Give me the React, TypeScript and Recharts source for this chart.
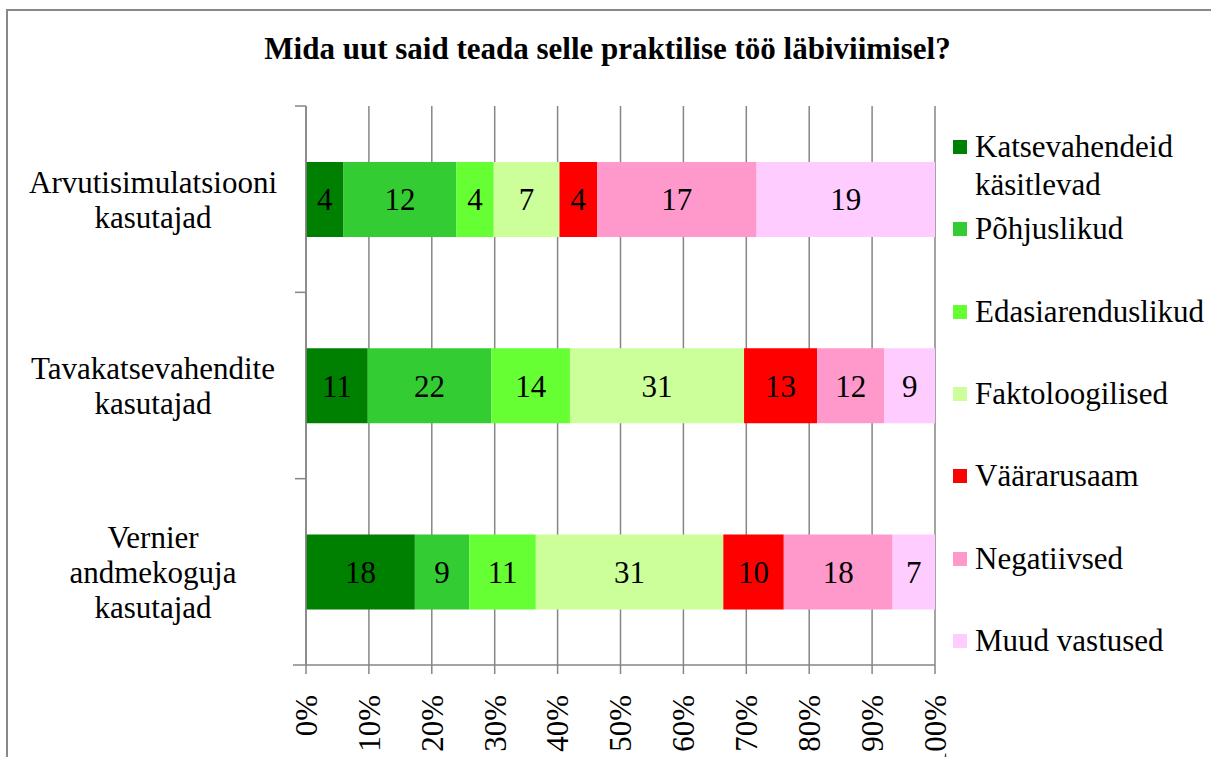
import React from 'react';
import { BarChart, Bar, XAxis, YAxis, CartesianGrid, LabelList } from 'recharts';

const categoryLines: string[][] = [
  ['Arvutisimulatsiooni', 'kasutajad'],
  ['Tavakatsevahendite', 'kasutajad'],
  ['Vernier', 'andmekoguja', 'kasutajad'],
];
const categories = categoryLines.map((l) => l.join(' '));

const seriesNames = [
  'Katsevahendeid käsitlevad',
  'Põhjuslikud',
  'Edasiarenduslikud',
  'Faktoloogilised',
  'Väärarusaam',
  'Negatiivsed',
  'Muud vastused',
];
const seriesColors = ['#008000', '#33CC33', '#66FF33', '#CCFF99', '#FF0000', '#FF99CC', '#FFCCFF'];

const katsevahendeid = [4, 11, 18];
const pohjuslikud = [12, 22, 9];
const edasiarenduslikud = [4, 14, 11];
const faktoloogilised = [7, 31, 31];
const vaararusaam = [4, 13, 10];
const negatiivsed = [17, 12, 18];
const muud = [19, 9, 7];

const seriesValues = [katsevahendeid, pohjuslikud, edasiarenduslikud, faktoloogilised, vaararusaam, negatiivsed, muud];
const xTicks = [0, 0.1, 0.2, 0.3, 0.4, 0.5, 0.6, 0.7, 0.8, 0.9, 1];

const keys = seriesNames.map((_, i) => `s${i}`);
const data = categories.map((name, ci) => {
  const row: Record<string, string | number> = { name };
  seriesValues.forEach((vals, si) => {
    row[keys[si]] = vals[ci];
  });
  return row;
});

const FONT = "'Liberation Serif', 'DejaVu Serif', 'Times New Roman', serif";
const AXIS = '#868686';
const FS = 31;

const CategoryTick = (props: any) => {
  const { x, y, payload, index } = props;
  const half = payload && payload.offset ? payload.offset : 93;
  const lines = categoryLines[index] ?? [String(payload.value)];
  const lh = 35;
  const startY = y - ((lines.length - 1) * lh) / 2;
  return (
    <g>
      <line x1={x - 11} x2={x} y1={y - half} y2={y - half} stroke={AXIS} strokeWidth={1.5} />
      {index === categoryLines.length - 1 && (
        <line x1={x - 13} x2={x} y1={y + half} y2={y + half} stroke={AXIS} strokeWidth={1.5} />
      )}
      <text x={x - 153} y={startY} textAnchor="middle" dominantBaseline="central" style={{ fontFamily: FONT }} fontSize={FS} fill="#000">
        {lines.map((l, i) => (
          <tspan key={i} x={x - 153} y={startY + i * lh}>
            {l}
          </tspan>
        ))}
      </text>
    </g>
  );
};

const PercentTick = (props: any) => {
  const { x, y, payload } = props;
  const label = `${Math.round(payload.value * 100)}%`;
  const ty = y + 19;
  return (
    <text
      x={x}
      y={ty}
      transform={`rotate(-90, ${x}, ${ty})`}
      textAnchor="end"
      dy="0.35em"
      style={{ fontFamily: FONT }}
      fontSize={FS}
      fill="#000"
    >
      {label}
    </text>
  );
};

export default function App() {
  return (
    <div
      style={{
        position: 'absolute',
        left: 0,
        top: 0,
        width: 1211,
        height: 757,
        overflow: 'hidden',
        background: '#fff',
        fontFamily: FONT,
      }}
    >
      <div
        style={{
          position: 'absolute',
          left: 6,
          top: 9,
          width: 1400,
          height: 1000,
          border: '2px solid #888',
        }}
      />
      <div
        style={{
          position: 'absolute',
          left: 0,
          top: 31,
          width: 1215,
          textAlign: 'center',
          fontWeight: 'bold',
          fontSize: FS,
          lineHeight: '36px',
          color: '#000',
        }}
      >
        Mida uut said teada selle praktilise töö läbiviimisel?
      </div>
      <div style={{ position: 'absolute', left: 0, top: 0 }}>
        <BarChart
          width={1211}
          height={757}
          data={data}
          layout="vertical"
          stackOffset="expand"
          barCategoryGap="30%"
          margin={{ top: 106, right: 276, bottom: 0, left: 0 }}
          style={{ fontFamily: FONT }}
        >
          <CartesianGrid horizontal={false} vertical stroke={AXIS} strokeWidth={1.5} />
          <XAxis
            type="number"
            domain={[0, 1]}
            ticks={xTicks}
            allowDataOverflow
            height={92}
            interval={0}
            tick={<PercentTick />}
            tickSize={9}
            axisLine={{ stroke: AXIS, strokeWidth: 1.5 }}
            tickLine={{ stroke: AXIS, strokeWidth: 1.5 }}
          />
          <YAxis
            type="category"
            dataKey="name"
            width={306}
            tickSize={0}
            tickMargin={0}
            tickLine={false}
            interval={0}
            axisLine={{ stroke: AXIS, strokeWidth: 1.5 }}
            tick={<CategoryTick />}
          />
          {keys.map((k, i) => (
            <Bar key={k} dataKey={k} stackId="a" fill={seriesColors[i]} name={seriesNames[i]} isAnimationActive={false}>
              <LabelList dataKey={k} position="center" fill="#000" style={{ fontFamily: FONT }} fontSize={FS} />
            </Bar>
          ))}
        </BarChart>
      </div>
      {seriesNames.map((n, i) => {
        const lines = i === 0 ? ['Katsevahendeid', 'käsitlevad'] : [n];
        const centerY = 147 + i * 82.3;
        return (
          <div
            key={n}
            style={{
              position: 'absolute',
              left: 953,
              top: centerY - 19,
              display: 'flex',
              alignItems: 'flex-start',
            }}
          >
            <div style={{ width: 14, height: 14, marginTop: 12, background: seriesColors[i], flexShrink: 0 }} />
            <div style={{ marginLeft: 8, fontSize: FS, lineHeight: '38px', color: '#000', whiteSpace: 'nowrap' }}>
              {lines.map((l, j) => (
                <div key={j}>{l}</div>
              ))}
            </div>
          </div>
        );
      })}
    </div>
  );
}
